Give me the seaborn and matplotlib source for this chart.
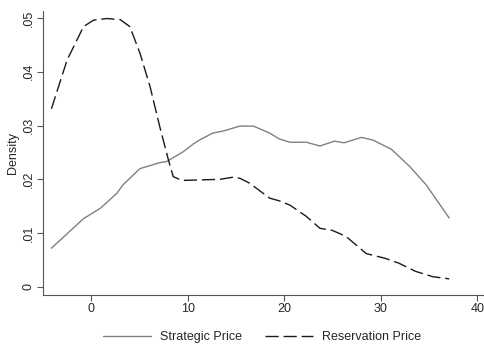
import numpy as np
import pandas as pd
import matplotlib
matplotlib.use("Agg")
import matplotlib.pyplot as plt
import seaborn as sns

strategic_x = [-4.13, -0.8, 0.93, 2.65, 3.3, 4.7, 5.06, 7.1, 7.8, 9.5, 10.6, 11.3, 12.6, 13.7,
               15.4, 16.8, 18.5, 19.5, 20.6, 22.3, 23.7, 25.2, 26.2, 28.0, 29.2, 31.1, 33.0, 34.7, 37.1]
strategic_y = [0.0072, 0.0127, 0.0146, 0.0174, 0.0190, 0.0214, 0.0220, 0.0231, 0.0233, 0.0251, 0.0266,
               0.0274, 0.0286, 0.0290, 0.0299, 0.0299, 0.0286, 0.0275, 0.0269, 0.0269, 0.0262, 0.0271,
               0.0268, 0.0278, 0.0273, 0.0256, 0.0224, 0.0190, 0.0128]

reservation_x = [-4.13, -2.5, -0.8, 0.24, 1.6, 3.0, 4.0, 5.06, 6.1, 7.1, 8.0, 8.5, 9.4, 11.3, 13.3,
                 14.7, 15.4, 16.4, 18.5, 19.5, 20.6, 22.3, 23.7, 25.0, 26.4, 28.5, 30.5, 31.9, 33.6,
                 35.4, 37.1]
reservation_y = [0.0331, 0.0422, 0.0484, 0.0496, 0.0499, 0.0497, 0.0484, 0.0434, 0.0372, 0.0298,
                 0.0236, 0.0205, 0.0198, 0.0199, 0.0200, 0.0204, 0.0202, 0.0193, 0.0165, 0.0160,
                 0.0152, 0.0131, 0.0109, 0.0105, 0.0094, 0.0062, 0.0053, 0.0044, 0.0029, 0.0019,
                 0.0015]

x_ticks = [0, 10, 20, 30, 40]
y_ticks = [0, 0.01, 0.02, 0.03, 0.04, 0.05]
y_tick_labels = ["0", ".01", ".02", ".03", ".04", ".05"]
series_names = ["Strategic Price", "Reservation Price"]

df = pd.concat([
    pd.DataFrame({"x": strategic_x, "y": strategic_y, "series": series_names[0]}),
    pd.DataFrame({"x": reservation_x, "y": reservation_y, "series": series_names[1]}),
], ignore_index=True)

sns.set_style("white")
plt.rcParams["font.family"] = ["Liberation Sans", "DejaVu Sans"]

fig = plt.figure(figsize=(4.84, 3.46), dpi=100)
ax = fig.add_axes([43 / 484, 1 - 295 / 346, (483 - 43) / 484, (295 - 11) / 346])

sns.lineplot(data=df, x="x", y="y", hue="series", style="series",
             palette={series_names[0]: "#808080", series_names[1]: "#1a1a1a"},
             dashes={series_names[0]: "", series_names[1]: (9.5, 3.5)},
             linewidth=1.0, sort=False, estimator=None, ax=ax, legend=True)

ax.set_xlim(-5.0, 40.6)
ax.set_ylim(-0.0015, 0.0513)
ax.set_xticks(x_ticks)
ax.set_yticks(y_ticks)
ax.set_yticklabels(y_tick_labels, rotation=90, va="center")
ax.set_xlabel("")
ax.set_ylabel("Density", fontsize=9, labelpad=3)
ax.tick_params(axis="both", direction="out", length=4, width=0.8, color="#555555",
               labelsize=9, pad=2, bottom=True, left=True)
for s in ["top", "right"]:
    ax.spines[s].set_visible(False)
for s in ["left", "bottom"]:
    ax.spines[s].set_color("#555555")
    ax.spines[s].set_linewidth(0.8)

handles, labels = ax.get_legend_handles_labels()
ax.legend().remove()
fig.legend(handles, labels, loc="center", bbox_to_anchor=(262 / 484, 1 - 337 / 346), ncol=2,
           frameon=False, fontsize=9, handlelength=3.8, columnspacing=1.9, handletextpad=0.7)

fig.savefig("out.png", dpi=100)
